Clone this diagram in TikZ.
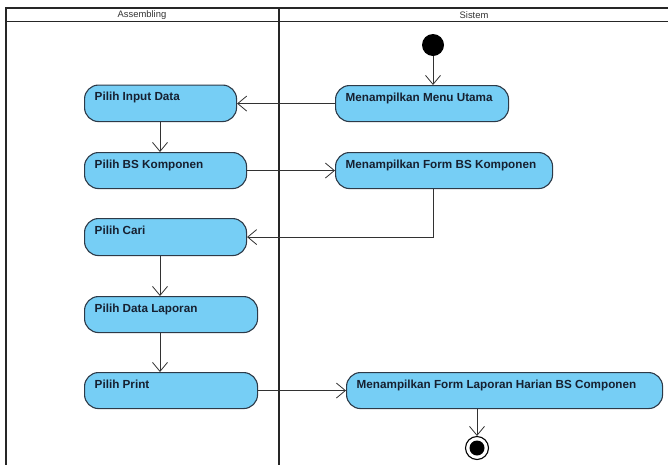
\documentclass[tikz,border=0pt]{standalone}
\usepackage{fontspec}
\setmainfont{Liberation Sans}
\usetikzlibrary{arrows.meta,calc}

\definecolor{actfill}{RGB}{118,206,245}
\definecolor{actline}{RGB}{45,58,72}
\definecolor{acttxt}{RGB}{22,32,48}
\definecolor{flowline}{RGB}{50,50,50}

\tikzset{
  actbox/.style={draw=actline, line width=1.1pt, fill=actfill, rounded corners=14pt,
    inner sep=0pt, anchor=north west},
  acttext/.style={anchor=base west, inner sep=0pt, text=acttxt,
    font=\fontsize{11.7}{13}\selectfont\bfseries},
  flow/.style={draw=flowline, line width=0.8pt,
    -{Straight Barb[length=9pt,width=15pt,line width=0.8pt]}},
  lane/.style={draw=black!85, line width=1.6pt},
  lanetitle/.style={font=\fontsize{9.4}{10}\selectfont, text=black!80, inner sep=0pt}
}

% activity: name, left x, top y, width, height, label
\newcommand\activity[6]{%
  \node[actbox, minimum width=#4pt, minimum height=#5pt] (#1) at (#2,#3) {};
  \node[acttext] (#1-label) at ($(#1.north west)+(10.5,16)$) {#6};
}

\begin{document}
\begin{tikzpicture}[x=1pt,y=-1pt]
  \useasboundingbox (0,0) rectangle (668,464);
  \clip (0,0) rectangle (668,464);
  \fill[white] (0,0) rectangle (668,464);

  % swimlanes
  \draw[lane] (6,475) -- (6,8) -- (672,8);
  \draw[lane] (6,21.5) -- (672,21.5);
  \draw[draw=black!85, line width=2.6pt] (279,8) -- (279,475);
  \node[lanetitle] (laneA) at (142,14.8) {Assembling};
  \node[lanetitle] (laneB) at (474,14.8) {Sistem};

  % start and end
  \node[circle, fill=black, minimum size=22pt, inner sep=0pt] (start) at (433,45) {};
  \node[circle, draw=black, line width=1.1pt, fill=white, minimum size=23pt, inner sep=0pt] (finish) at (477,448) {};
  \node[circle, fill=black, minimum size=15pt, inner sep=0pt] (finishdot) at (477,448) {};

  % activities
  \activity{menu}{335}{85}{173}{36}{Menampilkan Menu Utama}
  \activity{input}{84}{84.5}{152}{36.5}{Pilih Input Data}
  \activity{bs}{84}{152}{162}{36}{Pilih BS Komponen}
  \activity{formbs}{335}{152}{217}{36}{Menampilkan Form BS Komponen}
  \activity{cari}{84}{218}{162}{37}{Pilih Cari}
  \activity{laporan}{84}{296}{173}{36}{Pilih Data Laporan}
  \activity{print}{84}{372}{173}{36}{Pilih Print}
  \activity{formlap}{346}{372}{316}{36}{Menampilkan Form Laporan Harian BS Componen}

  \coordinate (leftcol) at (160,0);
  \coordinate (endcol) at (477,0);

  % control flow
  \draw[flow] (start.south) -- (start.south |- menu.north);
  \draw[flow] (menu.west) -- (menu.west -| input.east);
  \draw[flow] (input.south -| leftcol) -- (bs.north -| leftcol);
  \draw[flow] (bs.east) -- (bs.east -| formbs.west);
  \draw[flow] (formbs.south -| start) |- (cari.east);
  \draw[flow] (cari.south -| leftcol) -- (laporan.north -| leftcol);
  \draw[flow] (laporan.south -| leftcol) -- (print.north -| leftcol);
  \draw[flow] (print.east) -- (print.east -| formlap.west);
  \draw[flow] (formlap.south -| endcol) -- (finish.north);
\end{tikzpicture}
\end{document}
